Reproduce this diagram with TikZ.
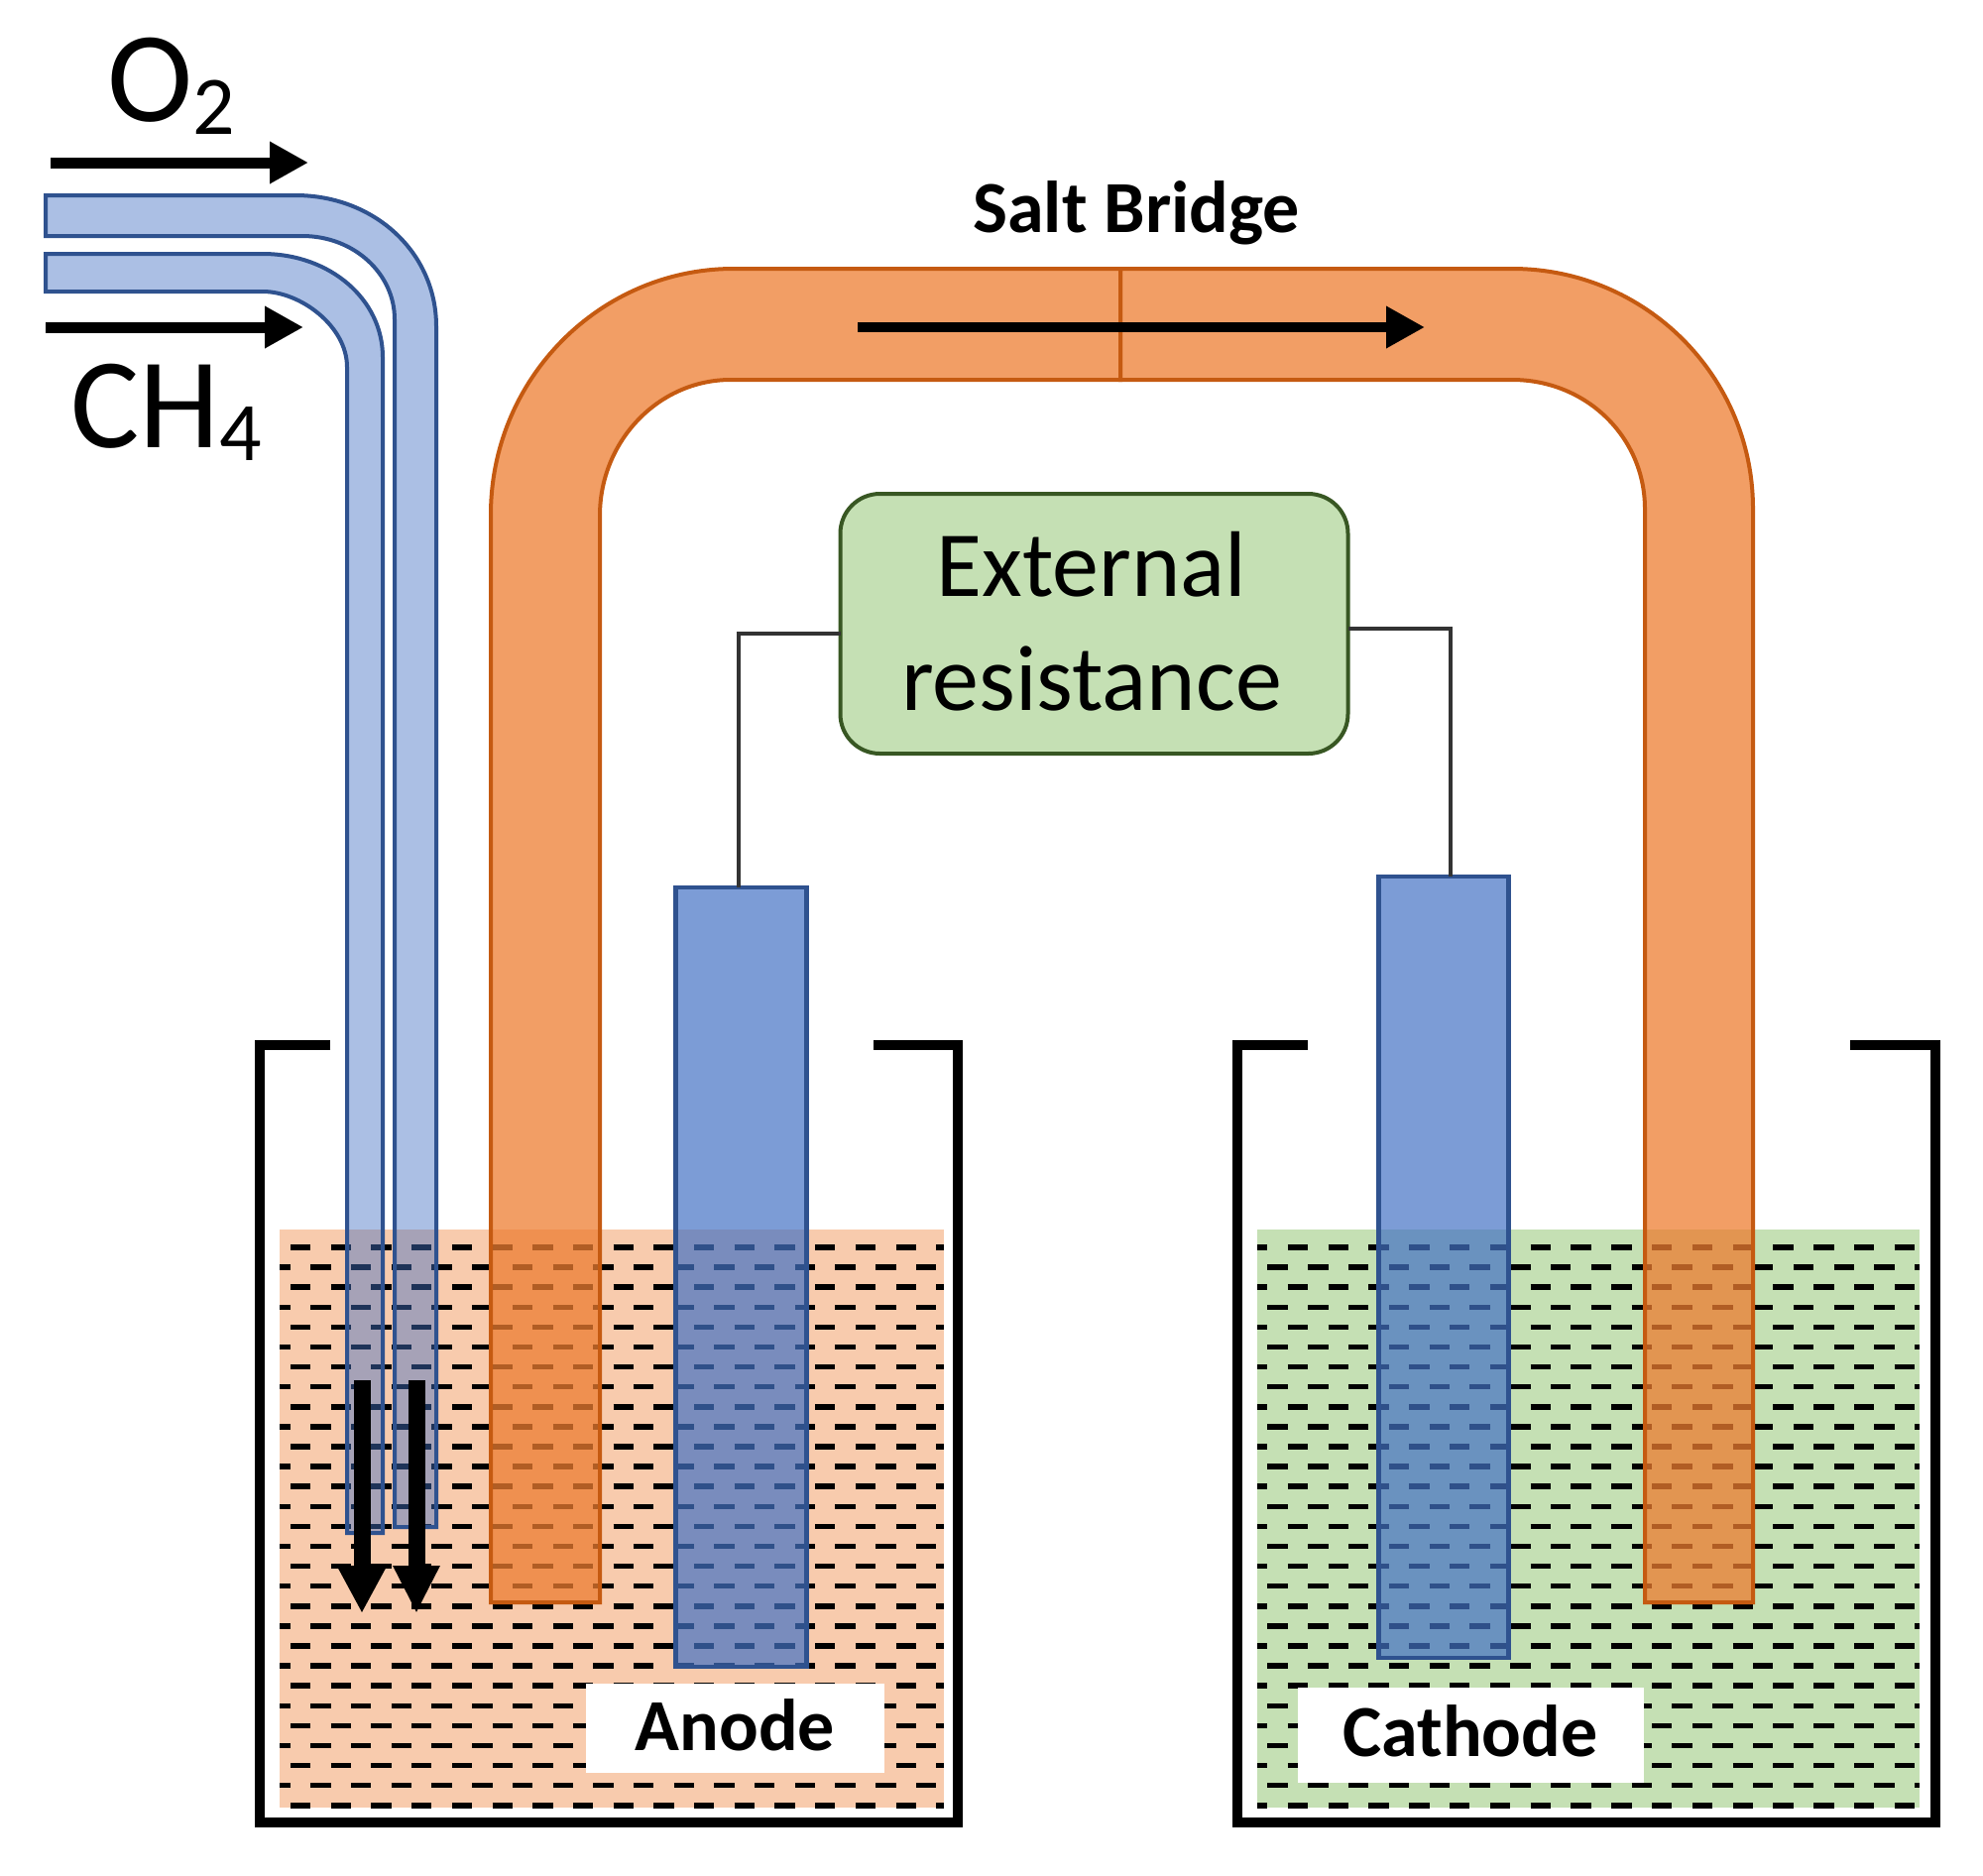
\documentclass[tikz,border=0pt]{standalone}
\usepackage{fontspec}
\setmainfont{Carlito}
\usetikzlibrary{arrows.meta}
\newcommand{\gassub}[1]{\raisebox{-13pt}{\fontsize{84}{84}\selectfont #1}}
\tikzset{
  beaker/.style={draw=black,line width=10pt,miter limit=10},
  tube/.style={draw=tubeedge,fill=elecblue,fill opacity=0.45,line width=4pt},
  electrode/.style={draw=tubeedge,fill=elecblue,fill opacity=0.7,line width=4.5pt,
    rectangle,inner sep=0pt,outer sep=0pt},
  bridge/.style={draw=bridgeedge,fill=bridgeorange,fill opacity=0.75,line width=4pt},
  wire/.style={draw=black!80,line width=4pt},
  flow/.style={draw=black,line width=#1,-{Triangle[length=39pt,width=40pt]}},
  flow/.default=10pt,
  gaslabel/.style={anchor=base,inner sep=0pt,font=\fontsize{130}{130}\selectfont},
  tag/.style={fill=white,inner sep=0pt,font=\bfseries\fontsize{74}{74}\selectfont},
}
\definecolor{elecblue}{HTML}{4472C4}
\definecolor{tubeedge}{HTML}{2F528F}
\definecolor{bridgeorange}{HTML}{ED7D31}
\definecolor{bridgeedge}{HTML}{C55A11}
\definecolor{liqpeach}{HTML}{F8CBAD}
\definecolor{liqgreen}{HTML}{C5E0B4}
\definecolor{resedge}{HTML}{385723}
\begin{document}
\begin{tikzpicture}[x=1pt,y=-1pt]
  \useasboundingbox (0,0) rectangle (2000,1891);
  % liquids
  \fill[liqpeach] (282,1240) rectangle (952,1823);
  \fill[liqgreen] (1268,1240) rectangle (1936,1823);
  \begin{scope}
    \clip (282,1240) rectangle (952,1823);
    \foreach \row in {0,...,28} {
      \pgfmathsetmacro\yrow{1258+20.1*\row}
      \pgfmathsetmacro\ph{mod(\row,2)==0 ? 29.7 : 9.35}
      \draw[line width=5.5pt,dash pattern=on 20.35pt off 20.35pt,dash phase=\ph pt] (282,\yrow) -- (952,\yrow);
    }
  \end{scope}
  \begin{scope}
    \clip (1268,1240) rectangle (1936,1823);
    \foreach \row in {0,...,28} {
      \pgfmathsetmacro\yrow{1258+20.1*\row}
      \pgfmathsetmacro\ph{mod(\row,2)==0 ? 10 : 30.4}
      \draw[line width=5.5pt,dash pattern=on 20.4pt off 20.4pt,dash phase=\ph pt] (1268,\yrow) -- (1936,\yrow);
    }
  \end{scope}
  % beakers
  \draw[beaker] (333,1054) -- (262,1054) -- (262,1838) -- (966,1838) -- (966,1054) -- (881,1054);
  \draw[beaker] (1319,1054) -- (1248,1054) -- (1248,1838) -- (1952,1838) -- (1952,1054) -- (1866,1054);
  % gas tubes
  \draw[tube] (46,197) -- (298,197) .. controls (378,197) and (440,255) .. (440,329)
    -- (440,1540) -- (398,1540) -- (398,322) .. controls (398,276) and (357,238) .. (305,238)
    -- (46,238) -- cycle;
  \draw[tube] (46,256) -- (265,256) .. controls (333,256) and (386,302) .. (386,360)
    -- (386,1546) -- (350,1546) -- (350,370) .. controls (350,329) and (303,294) .. (265,294)
    -- (46,294) -- cycle;
  % salt bridge, two halves
  \draw[bridge] (1130,271) -- (740,271) .. controls (605,271) and (495,382) .. (495,519)
    -- (495,1616) -- (605,1616) -- (605,520) .. controls (605,445) and (664,383) .. (737,383)
    -- (1130,383) -- cycle;
  \draw[bridge] (1130,271) -- (1525,271) .. controls (1660,271) and (1768,380) .. (1768,513)
    -- (1768,1616) -- (1659,1616) -- (1659,513) .. controls (1659,441) and (1600,383) .. (1525,383)
    -- (1130,383) -- cycle;
  % electrodes
  \node[electrode,minimum width=132pt,minimum height=786pt] (anode) at (747.5,1288) {};
  \node[electrode,minimum width=131pt,minimum height=788pt] (cathode) at (1456,1278) {};
  % resistance and wires
  \node[draw=resedge,fill=liqgreen,line width=4pt,rounded corners=40pt,
    minimum width=512pt,minimum height=262pt,inner sep=0pt,outer sep=0pt] (extres) at (1103.5,629) {};
  \node[anchor=base,inner sep=0pt,font=\fontsize{94}{94}\selectfont] (extline) at (1101,601) {External};
  \node[anchor=base,inner sep=0pt,font=\fontsize{94}{94}\selectfont] (resline) at (1101,716) {resistance};
  \coordinate (wireleft) at (745,639);
  \coordinate (wireright) at (1463,634);
  \draw[wire] (extres.west |- wireleft) -- (wireleft) -- (anode.north -| wireleft);
  \draw[wire] (extres.east |- wireright) -- (wireright) -- (cathode.north -| wireright);
  % labels
  \node[anchor=base,inner sep=0pt,font=\bfseries\fontsize{74}{74}\selectfont] (saltlabel) at (1146,234) {Salt Bridge};
  \node[tag,minimum width=301pt,minimum height=90pt] (anodelabel) at (741.5,1743) {\raisebox{6pt}{Anode}};
  \node[tag,minimum width=349pt,minimum height=96pt] (cathodelabel) at (1483,1750) {\raisebox{8pt}{Cathode}};
  \node[gaslabel] (oxlabel) at (173,122) {O\gassub{2}};
  \node[gaslabel] (methlabel) at (168,451) {CH\gassub{4}};
  % flow arrows
  \coordinate (oxa) at (51,164);
  \coordinate (oxb) at (311,164);
  \coordinate (metha) at (46,330);
  \coordinate (methb) at (306,330);
  \coordinate (saltA) at (865,330);
  \coordinate (saltB) at (1437,330);
  \coordinate (downa) at (365,1392);
  \coordinate (downb) at (365,1627);
  \coordinate (downc) at (420,1392);
  \coordinate (downd) at (420,1627);
  \draw[flow=11pt] (oxa) -- (oxb);
  \draw[flow=11pt] (metha) -- (methb);
  \draw[flow=10pt] (saltA) -- (saltB);
  \draw[flow=17pt,-{Triangle[length=48pt,width=47pt]}] (downa) -- (downb);
  \draw[flow=17pt,-{Triangle[length=48pt,width=44pt]}] (downc) -- (downd);
\end{tikzpicture}
\end{document}
